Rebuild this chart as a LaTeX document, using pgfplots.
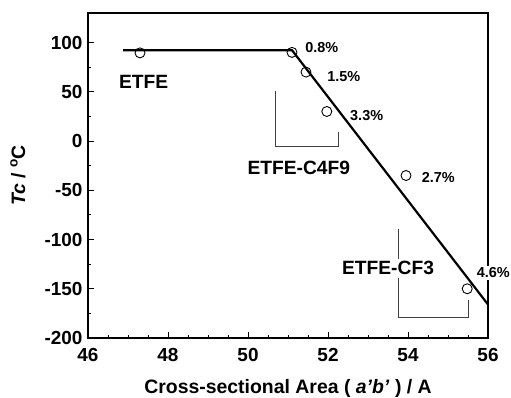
\documentclass[border=0pt]{standalone}
\usepackage{fontspec}
\setmainfont{Liberation Sans}
\usepackage{pgfplots}
\pgfplotsset{compat=1.18}

\begin{document}
\begin{tikzpicture}[x=1bp,y=1bp]
\path[use as bounding box] (-88,-59) rectangle (423,338);
\begin{axis}[
  at={(0,0)}, anchor=south west,
  scale only axis, width=400bp, height=325bp,
  xmin=46, xmax=56, ymin=-200, ymax=130,
  xtick={46,48,...,56}, ytick={-200,-150,...,100},
  minor x tick num=3, minor y tick num=1,
  tick pos=left, tick align=inside,
  major tick length=6bp, minor tick length=3.5bp,
  axis line style={line width=1.2bp},
  every tick/.style={line width=1bp, black},
  tick label style={font=\fontsize{19}{21}\selectfont\bfseries},
  xticklabel style={yshift=-6.5bp},
  yticklabel style={xshift=-2bp},
  /pgf/number format/assume math mode=true,
  xlabel={\textbf{Cross-sectional Area ( \textit{a'b'} ) / A}},
  ylabel={\textbf{\textit{Tc} / \textsuperscript{o}C}},
  label style={font=\fontsize{19.5}{22}\selectfont},
  xlabel style={at={(axis description cs:0.5,-0.1277)}, anchor=north, inner sep=0pt},
  ylabel style={at={(axis description cs:-0.195,0.5)}, anchor=north, inner sep=0pt},
  clip=false,
]
% linear fit: plateau, then the steep decrease
\addplot[black, line width=2.2bp] coordinates {(46.88,92.2) (51.1,92.2) (56,-166)};
% measured points
\addplot[only marks, mark=o, mark size=5bp, mark options={fill=white, line width=0.9bp}, black]
  coordinates {(47.3,89.5) (51.1,90) (51.45,70) (51.97,30) (53.95,-35) (55.48,-150)};

% group brackets
\draw[line width=0.9bp, black!75] (axis cs:50.69,51) -- (axis cs:50.69,-5.5) -- (axis cs:52.27,-5.5) -- (axis cs:52.27,9);
\draw[line width=0.9bp, black!75] (axis cs:53.77,-89.6) -- (axis cs:53.77,-119.4);
\draw[line width=0.9bp, black!75] (axis cs:53.77,-138.6) -- (axis cs:53.77,-179.5) -- (axis cs:55.5,-179.5) -- (axis cs:55.5,-161);

\begin{scope}[every node/.style={font=\fontsize{19.3}{21}\selectfont\bfseries, inner sep=0pt}]
  \node at (axis cs:47.39,59.8) {ETFE};
  \node at (axis cs:51.27,-27.5) {ETFE-C4F9};
  \node at (axis cs:53.5,-128.7) {ETFE-CF3};
\end{scope}
\begin{scope}[every node/.style={font=\fontsize{14.5}{16}\selectfont\bfseries, anchor=west, inner sep=0pt}]
  \node at (axis cs:51.43,95.3) {0.8\%};
  \node at (axis cs:51.98,65.7) {1.5\%};
  \node at (axis cs:52.55,26) {3.3\%};
  \node at (axis cs:54.34,-37.5) {2.7\%};
  \node[fill=white, inner sep=1.5bp] at (axis cs:55.68,-134) {4.6\%};
\end{scope}
\end{axis}
\end{tikzpicture}
\end{document}
